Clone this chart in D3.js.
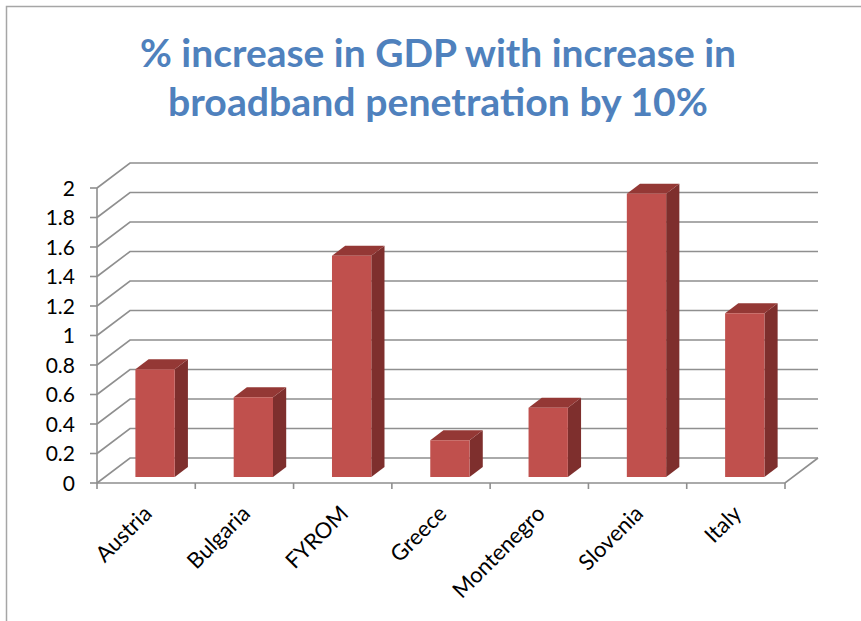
<!DOCTYPE html>
<html><head><meta charset="utf-8">
<script src="https://cdn.jsdelivr.net/npm/d3@7"></script>
<style>body{margin:0;background:#fff}</style>
</head><body>
<svg id="c" width="861" height="621"></svg>
<script>
const titleLines = ["% increase in GDP with increase in", "broadband penetration by 10%"];
const categories = ["Austria","Bulgaria","FYROM","Greece","Montenegro","Slovenia","Italy"];
const values = [0.73, 0.54, 1.50, 0.25, 0.47, 1.92, 1.11];
const yTicks = [0,0.2,0.4,0.6,0.8,1,1.2,1.4,1.6,1.8,2];

const svg = d3.select("#c");
const W = 861, H = 621;
svg.append("rect").attr("width",W).attr("height",H).attr("fill","#fff");
// outer border (top and left visible)
svg.append("path").attr("d","M6.5,621 L6.5,6.5 L861,6.5").attr("fill","none").attr("stroke","#a6a6a6").attr("stroke-width",1.5);

// plot geometry
const x0 = 97, x1 = 785, yBase = 483, yTop = 188;
const DX = 33, DY = -25; // depth vector
const x = d3.scaleBand().domain(categories).range([x0,x1]).paddingInner(0).paddingOuter(0);
const y = d3.scaleLinear().domain([0,2]).range([yBase,yTop]);
const P = (px, v, d) => [px + d*DX, y(v) + d*DY];

const grid = svg.append("g").attr("fill","none").attr("stroke","#8f8f8f").attr("stroke-width",1.6);
// gridlines: side wall diagonal + back wall horizontal
yTicks.forEach(t => {
  const a = P(x0, t, 0), b = P(x0, t, 1), c = P(x1, t, 1);
  grid.append("path").attr("d", `M${a[0]},${a[1]} L${b[0]},${b[1]} L${c[0]},${c[1]}`);
});
// floor front and right edges
{
  const a = P(x0,0,0), b = P(x1,0,0), c = P(x1,0,1);
  grid.append("path").attr("d", `M${a[0]},${a[1]} L${b[0]},${b[1]} L${c[0]},${c[1]}`);
}
// vertical axis
grid.append("line").attr("x1",x0).attr("x2",x0).attr("y1",y(0)).attr("y2",y(2));
// y ticks
yTicks.forEach(t => grid.append("line").attr("x1",x0-7).attr("x2",x0).attr("y1",y(t)).attr("y2",y(t)));
// category ticks
const catEdges = categories.map(c => x(c)).concat([x1]);
catEdges.forEach(e => grid.append("line").attr("x1",e).attr("x2",e).attr("y1",yBase).attr("y2",yBase+6));

// y labels
svg.append("g").selectAll("text").data(yTicks).join("text")
  .attr("x", 75).attr("y", d => y(d)).attr("dy","0.36em")
  .attr("text-anchor","end").attr("font-family","Lato, 'Open Sans', sans-serif")
  .attr("font-size",21).attr("fill","#000").text(d => d3.format("~g")(d));

// bars
const d0 = 0.24, d1 = 0.64;
const bw = x.bandwidth()*0.4;
const bars = svg.append("g");
categories.forEach((c,i) => {
  const v = values[i];
  const xl = x(c) + (x.bandwidth()-bw)/2 + 1, xr = xl + bw;
  const f1 = P(xl,0,d0), f2 = P(xr,0,d0), f3 = P(xr,v,d0), f4 = P(xl,v,d0);
  const b2 = P(xr,0,d1), b3 = P(xr,v,d1), b4 = P(xl,v,d1);
  const poly = pts => "M" + pts.map(p => p.join(",")).join("L") + "Z";
  bars.append("path").attr("d", poly([f2,b2,b3,f3])).attr("fill","#7e2f2d");
  bars.append("path").attr("d", poly([f4,f3,b3,b4])).attr("fill","#943835");
  bars.append("path").attr("d", poly([f1,f2,f3,f4])).attr("fill","#c0504d");
});

// category labels
svg.append("g").selectAll("text").data(categories).join("text")
  .attr("transform", d => `translate(${x(d)+x.bandwidth()/2+7},${yBase+32}) rotate(-45)`)
  .attr("text-anchor","end").attr("font-family","Lato, 'Open Sans', sans-serif")
  .attr("font-size",22).attr("fill","#000").text(d => d);

// title
const tl = [[438,67,596],[438,116,540]];
svg.append("g").selectAll("text").data(titleLines).join("text")
  .attr("x",(d,i)=>tl[i][0]).attr("y",(d,i)=>tl[i][1])
  .attr("text-anchor","middle").attr("font-family","Lato, 'Open Sans', sans-serif")
  .attr("font-weight","bold").attr("font-size",39).attr("fill","#4f81bd")
  .attr("textLength",(d,i)=>tl[i][2]).attr("lengthAdjust","spacingAndGlyphs")
  .text(d => d);
</script>
</body></html>
